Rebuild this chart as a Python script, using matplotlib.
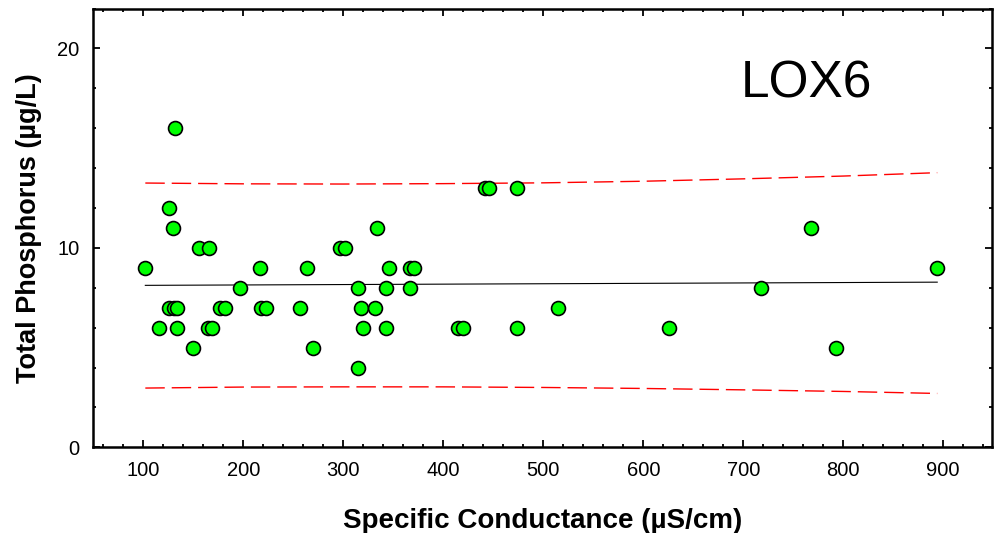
import numpy as np
import matplotlib.pyplot as plt
from matplotlib.ticker import MultipleLocator

plt.rcParams['font.family'] = ['Liberation Sans', 'DejaVu Sans']

# specific conductance (uS/cm) and total phosphorus (ug/L)
cond = [132, 126, 130, 334, 768, 156, 166, 297, 302, 442, 446, 474,
        102, 217, 264, 346, 367, 371, 894,
        197, 315, 343, 367, 718,
        126, 131, 134, 177, 182, 218, 223, 257, 318, 332, 515,
        116, 134, 165, 169, 320, 343, 415, 420, 474, 626,
        150, 270, 793, 315]
tp = [16, 12, 11, 11, 11, 10, 10, 10, 10, 13, 13, 13,
      9, 9, 9, 9, 9, 9, 9,
      8, 8, 8, 8, 8,
      7, 7, 7, 7, 7, 7, 7, 7, 7, 7, 7,
      6, 6, 6, 6, 6, 6, 6, 6, 6, 6,
      5, 5, 5, 4]

# regression line and prediction bands
fit_x = [102, 894]
fit_y = [8.12, 8.28]
band_x = [102, 200, 300, 400, 500, 600, 700, 800, 894]
band_hi = [13.25, 13.21, 13.2, 13.22, 13.26, 13.34, 13.46, 13.6, 13.77]
band_lo = [2.97, 3.02, 3.03, 3.03, 3.0, 2.95, 2.88, 2.8, 2.7]

fig = plt.figure(figsize=(9.95, 5.33), dpi=100)
ax = fig.add_axes([0.0938, 0.1608, 0.9029, 0.8232])

ax.plot(band_x, band_hi, color='red', lw=1, dashes=(14, 5))
ax.plot(band_x, band_lo, color='red', lw=1, dashes=(14, 5))
ax.plot(fit_x, fit_y, color='black', lw=0.8)
ax.scatter(cond, tp, s=100, c='#00ff00', edgecolors='black', linewidths=1.2, zorder=3)

ax.set_xlim(50, 948.5)
ax.set_ylim(0, 22)
ax.xaxis.set_major_locator(MultipleLocator(100))
ax.xaxis.set_minor_locator(MultipleLocator(20))
ax.yaxis.set_major_locator(MultipleLocator(10))
ax.yaxis.set_minor_locator(MultipleLocator(2))
ax.tick_params(which='both', direction='in', top=True, right=True, width=1.3,
               labelsize=14.5, pad=10)
ax.tick_params(which='major', length=5)
ax.tick_params(which='minor', length=2.5)
for s in ax.spines.values():
    s.set_linewidth(1.8)

ax.set_xlabel('Specific Conductance (µS/cm)', fontsize=20, fontweight='bold', labelpad=20)
ax.set_ylabel('Total Phosphorus (µg/L)', fontsize=19.5, fontweight='bold', labelpad=11)
ax.text(0.7206, 0.7976, 'LOX6', transform=ax.transAxes, fontsize=37,
        ha='left', va='baseline')

fig.savefig('out.png', dpi=100)
